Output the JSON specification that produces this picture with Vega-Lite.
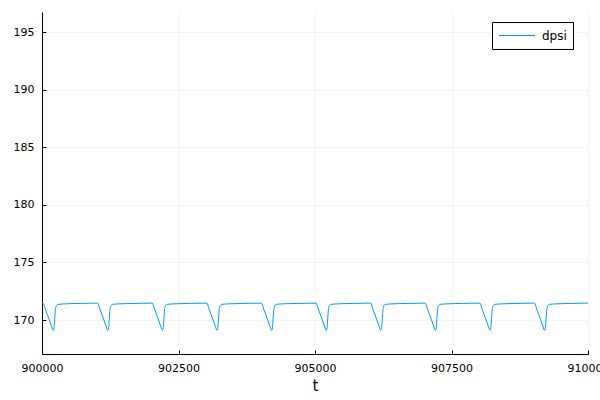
{
 "$schema": "https://vega.github.io/schema/vega-lite/v6.json",
 "width": 546, "height": 342,
 "autosize": {"type": "none"},
 "padding": {"left": 42, "top": 12, "right": 12, "bottom": 46},
 "background": "white",
 "config": {
  "view": {"stroke": null},
  "font": "DejaVu Sans",
  "axis": {
   "domainColor": "black", "domainWidth": 1,
   "tickColor": "black", "tickSize": -4, "tickWidth": 1,
   "gridColor": "black", "gridOpacity": 0.08, "gridWidth": 0.5,
   "labelFontSize": 11, "labelColor": "black", "labelFont": "DejaVu Sans",
   "titleFontSize": 15, "titleFontWeight": "normal", "titleColor": "black", "titleFont": "DejaVu Sans"
  },
  "legend": {
   "labelFont": "DejaVu Sans", "labelFontSize": 12, "labelColor": "black"
  }
 },
 "data": {"values": [
  {"t": 900000, "v": 171.48},
  {"t": 900020, "v": 171.47}, {"t": 900060, "v": 170.95}, {"t": 900100, "v": 170.45}, {"t": 900140, "v": 169.92}, {"t": 900175, "v": 169.45}, {"t": 900195, "v": 169.18}, {"t": 900207, "v": 169.1}, {"t": 900218, "v": 169.25}, {"t": 900230, "v": 169.9}, {"t": 900242, "v": 170.75}, {"t": 900255, "v": 171.15}, {"t": 900270, "v": 171.3}, {"t": 900295, "v": 171.36}, {"t": 900400, "v": 171.4}, {"t": 900700, "v": 171.44},
  {"t": 901020, "v": 171.47}, {"t": 901060, "v": 170.95}, {"t": 901100, "v": 170.45}, {"t": 901140, "v": 169.92}, {"t": 901175, "v": 169.45}, {"t": 901195, "v": 169.18}, {"t": 901207, "v": 169.1}, {"t": 901218, "v": 169.25}, {"t": 901230, "v": 169.9}, {"t": 901242, "v": 170.75}, {"t": 901255, "v": 171.15}, {"t": 901270, "v": 171.3}, {"t": 901295, "v": 171.36}, {"t": 901400, "v": 171.4}, {"t": 901700, "v": 171.44},
  {"t": 902020, "v": 171.47}, {"t": 902060, "v": 170.95}, {"t": 902100, "v": 170.45}, {"t": 902140, "v": 169.92}, {"t": 902175, "v": 169.45}, {"t": 902195, "v": 169.18}, {"t": 902207, "v": 169.1}, {"t": 902218, "v": 169.25}, {"t": 902230, "v": 169.9}, {"t": 902242, "v": 170.75}, {"t": 902255, "v": 171.15}, {"t": 902270, "v": 171.3}, {"t": 902295, "v": 171.36}, {"t": 902400, "v": 171.4}, {"t": 902700, "v": 171.44},
  {"t": 903020, "v": 171.47}, {"t": 903060, "v": 170.95}, {"t": 903100, "v": 170.45}, {"t": 903140, "v": 169.92}, {"t": 903175, "v": 169.45}, {"t": 903195, "v": 169.18}, {"t": 903207, "v": 169.1}, {"t": 903218, "v": 169.25}, {"t": 903230, "v": 169.9}, {"t": 903242, "v": 170.75}, {"t": 903255, "v": 171.15}, {"t": 903270, "v": 171.3}, {"t": 903295, "v": 171.36}, {"t": 903400, "v": 171.4}, {"t": 903700, "v": 171.44},
  {"t": 904020, "v": 171.47}, {"t": 904060, "v": 170.95}, {"t": 904100, "v": 170.45}, {"t": 904140, "v": 169.92}, {"t": 904175, "v": 169.45}, {"t": 904195, "v": 169.18}, {"t": 904207, "v": 169.1}, {"t": 904218, "v": 169.25}, {"t": 904230, "v": 169.9}, {"t": 904242, "v": 170.75}, {"t": 904255, "v": 171.15}, {"t": 904270, "v": 171.3}, {"t": 904295, "v": 171.36}, {"t": 904400, "v": 171.4}, {"t": 904700, "v": 171.44},
  {"t": 905020, "v": 171.47}, {"t": 905060, "v": 170.95}, {"t": 905100, "v": 170.45}, {"t": 905140, "v": 169.92}, {"t": 905175, "v": 169.45}, {"t": 905195, "v": 169.18}, {"t": 905207, "v": 169.1}, {"t": 905218, "v": 169.25}, {"t": 905230, "v": 169.9}, {"t": 905242, "v": 170.75}, {"t": 905255, "v": 171.15}, {"t": 905270, "v": 171.3}, {"t": 905295, "v": 171.36}, {"t": 905400, "v": 171.4}, {"t": 905700, "v": 171.44},
  {"t": 906020, "v": 171.47}, {"t": 906060, "v": 170.95}, {"t": 906100, "v": 170.45}, {"t": 906140, "v": 169.92}, {"t": 906175, "v": 169.45}, {"t": 906195, "v": 169.18}, {"t": 906207, "v": 169.1}, {"t": 906218, "v": 169.25}, {"t": 906230, "v": 169.9}, {"t": 906242, "v": 170.75}, {"t": 906255, "v": 171.15}, {"t": 906270, "v": 171.3}, {"t": 906295, "v": 171.36}, {"t": 906400, "v": 171.4}, {"t": 906700, "v": 171.44},
  {"t": 907020, "v": 171.47}, {"t": 907060, "v": 170.95}, {"t": 907100, "v": 170.45}, {"t": 907140, "v": 169.92}, {"t": 907175, "v": 169.45}, {"t": 907195, "v": 169.18}, {"t": 907207, "v": 169.1}, {"t": 907218, "v": 169.25}, {"t": 907230, "v": 169.9}, {"t": 907242, "v": 170.75}, {"t": 907255, "v": 171.15}, {"t": 907270, "v": 171.3}, {"t": 907295, "v": 171.36}, {"t": 907400, "v": 171.4}, {"t": 907700, "v": 171.44},
  {"t": 908020, "v": 171.47}, {"t": 908060, "v": 170.95}, {"t": 908100, "v": 170.45}, {"t": 908140, "v": 169.92}, {"t": 908175, "v": 169.45}, {"t": 908195, "v": 169.18}, {"t": 908207, "v": 169.1}, {"t": 908218, "v": 169.25}, {"t": 908230, "v": 169.9}, {"t": 908242, "v": 170.75}, {"t": 908255, "v": 171.15}, {"t": 908270, "v": 171.3}, {"t": 908295, "v": 171.36}, {"t": 908400, "v": 171.4}, {"t": 908700, "v": 171.44},
  {"t": 909020, "v": 171.47}, {"t": 909060, "v": 170.95}, {"t": 909100, "v": 170.45}, {"t": 909140, "v": 169.92}, {"t": 909175, "v": 169.45}, {"t": 909195, "v": 169.18}, {"t": 909207, "v": 169.1}, {"t": 909218, "v": 169.25}, {"t": 909230, "v": 169.9}, {"t": 909242, "v": 170.75}, {"t": 909255, "v": 171.15}, {"t": 909270, "v": 171.3}, {"t": 909295, "v": 171.36}, {"t": 909400, "v": 171.4}, {"t": 909700, "v": 171.44},
  {"t": 910000, "v": 171.47}
 ]},
 "mark": {"type": "line", "interpolate": "monotone", "strokeWidth": 1, "clip": true},
 "encoding": {
  "x": {"field": "t", "type": "quantitative",
   "scale": {"domain": [900000, 910000], "nice": false, "zero": false},
   "axis": {"values": [900000, 902500, 905000, 907500, 910000], "format": "d", "title": "t", "labelPadding": 12, "titlePadding": 5, "labelFlush": false}},
  "y": {"field": "v", "type": "quantitative",
   "scale": {"domain": [167.05, 196.74], "nice": false, "zero": false},
   "axis": {"values": [170, 175, 180, 185, 190, 195], "title": null, "labelPadding": 12}},
  "color": {"datum": "dpsi", "type": "nominal",
   "scale": {"range": ["#009afa"]},
   "legend": {"title": null, "orient": "none", "legendX": 450, "legendY": 10,
    "strokeColor": "black", "fillColor": "white", "padding": 6, "cornerRadius": 0,
    "symbolType": "stroke", "symbolSize": 1300, "symbolStrokeWidth": 1, "labelOffset": 6, "clipHeight": 15}}
 }
}
